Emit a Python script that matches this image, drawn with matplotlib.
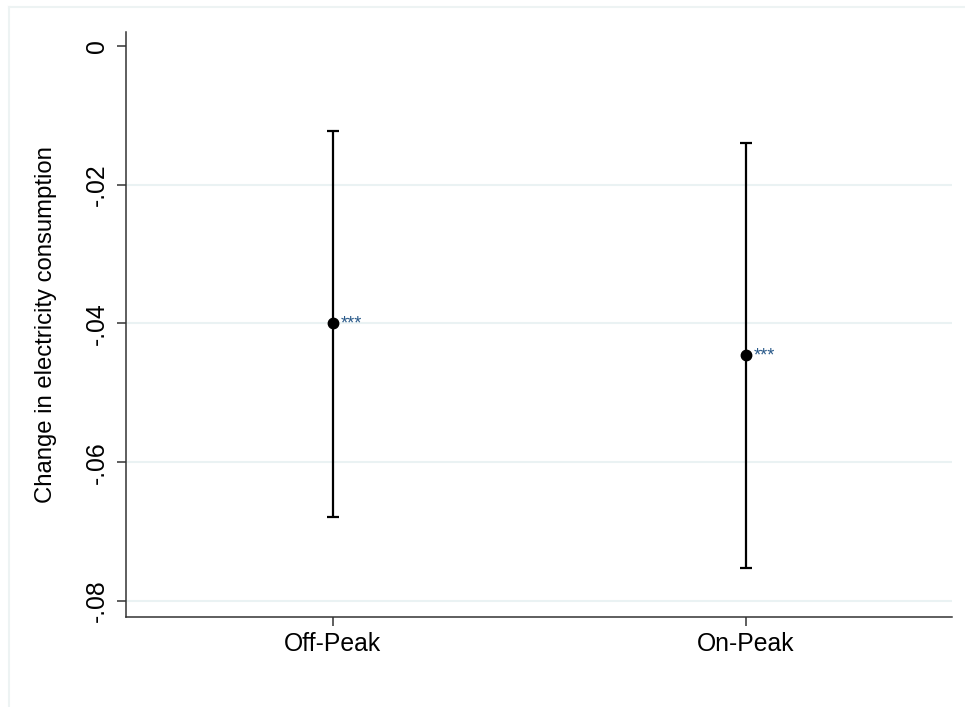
import matplotlib
matplotlib.use("Agg")
import matplotlib.pyplot as plt
from matplotlib.lines import Line2D

categories = ["Off-Peak", "On-Peak"]
estimates = [-0.0399, -0.0445]
ci_upper = [-0.0122, -0.0140]
ci_lower = [-0.0679, -0.0752]
stars = ["***", "***"]
yticks = [0, -0.02, -0.04, -0.06, -0.08]
ytick_labels = ["0", "-.02", "-.04", "-.06", "-.08"]
ylabel = "Change in electricity consumption"

plt.rcParams['font.family'] = ['Liberation Sans', 'DejaVu Sans']

fig = plt.figure(figsize=(9.65, 7.07), dpi=100)
fig.patch.set_facecolor("white")
# outer graph-region border (partially visible)
border_col = "#edf3f3"
fig.add_artist(Line2D([9/965, 1.0], [1-7/707, 1-7/707], color=border_col, lw=1.5, transform=fig.transFigure))
fig.add_artist(Line2D([9/965, 9/965], [0, 1-7/707], color=border_col, lw=1.5, transform=fig.transFigure))

ax = fig.add_axes([126/965, 1-617/707, (952-126)/965, (617-32)/707])
x = [1, 2]
for i in range(len(categories)):
    ax.errorbar(x[i], estimates[i],
                yerr=[[estimates[i]-ci_lower[i]], [ci_upper[i]-estimates[i]]],
                fmt='o', color='black', ms=7.5, lw=1.6, capsize=4.5, capthick=1.6, zorder=3)
    ax.annotate(stars[i], (x[i], estimates[i]), xytext=(6, -1), textcoords='offset points',
                ha='left', va='center', fontsize=13, color='#2a5a8a')

ax.set_xlim(0.5, 2.5)
ax.set_ylim(-0.08231, 0.00202)
ax.set_xticks(x)
ax.set_xticklabels(categories, fontsize=17.8)
ax.set_yticks(yticks)
ax.set_yticklabels(ytick_labels, fontsize=17.8, rotation=90, va='center')
for yv in yticks[1:]:
    ax.axhline(yv, color='#eaf2f3', lw=1.5, zorder=0)
ax.set_ylabel(ylabel, fontsize=17.2, labelpad=20)

for s in ['top', 'right']:
    ax.spines[s].set_visible(False)
for s in ['left', 'bottom']:
    ax.spines[s].set_color('#333333')
    ax.spines[s].set_linewidth(1.1)
ax.tick_params(axis='both', direction='out', length=6.5, width=1.1, color='#333333')
ax.tick_params(axis='y', pad=6)
ax.tick_params(axis='x', pad=4)

fig.savefig("out.png", dpi=100, facecolor="white")
